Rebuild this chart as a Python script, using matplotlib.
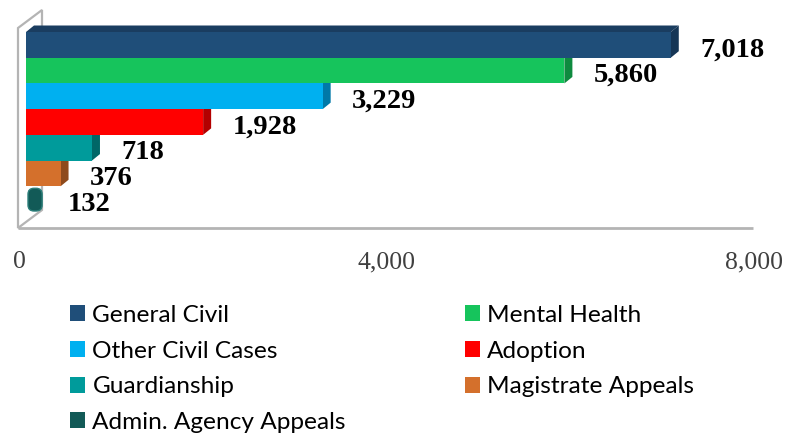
import numpy as np
import matplotlib
matplotlib.use('Agg')
import matplotlib.pyplot as plt
from matplotlib.patches import Polygon, Patch, FancyBboxPatch
from matplotlib.transforms import ScaledTranslation

categories = ['General Civil', 'Mental Health', 'Other Civil Cases', 'Adoption',
              'Guardianship', 'Magistrate Appeals', 'Admin. Agency Appeals']
values = [7018, 5860, 3229, 1928, 718, 376, 132]
front_colors = ['#1F4E79', '#16C45C', '#00B0F0', '#FF0000', '#009B9B', '#D4702C', '#125A57']
side_colors = ['#163656', '#0E8A3F', '#0079A8', '#B30000', '#006767', '#8E4A1C', '#0B3D3B']
top_colors = ['#1A3D60', '#12A54D', '#0095CC', '#D40000', '#008181', '#B35E25', '#0E4A47']
xticks = [0, 4000, 8000]

W, H, DPI = 801, 434, 100
fig = plt.figure(figsize=(W / DPI, H / DPI), dpi=DPI)
# bar (front) plane in pixels: x 26..761, y 22..222
ax = fig.add_axes([26 / W, 1 - 222 / H, 735 / W, 200 / H])
ax.set_xlim(0, 8000)
n = len(categories)
slot = 180 / n
pad = 10 / slot
ax.set_ylim(n - 0.5 + pad, -0.5 - pad)
ytop, ybot = -0.5 - pad, n - 0.5 + pad
sx = 8000 / 735           # data units per pixel (x)
sy = (n + 2 * pad) / 200  # data units per pixel (y, downward)

for s in ax.spines.values():
    s.set_visible(False)
ax.set_yticks([])
ax.patch.set_alpha(0)

# back wall and floor edge
wall_col = '#B4B4B4'
wall = Polygon([(-8 * sx, ybot + 6 * sy), (-8 * sx, ytop + 6 * sy),
                (16 * sx, ytop - 12 * sy), (16 * sx, ybot - 12 * sy)],
               closed=True, facecolor='white', edgecolor=wall_col, lw=1.6,
               clip_on=False, zorder=1)
ax.add_patch(wall)
ax.plot([-8 * sx, 8000 - 8 * sx], [ybot + 6 * sy, ybot + 6 * sy], color=wall_col,
        lw=2.0, clip_on=False, zorder=2, solid_capstyle='butt')

dx, dy = 8 * sx, 6.5 * sy
h = 1.0
for i in range(n - 1, -1, -1):
    v = values[i]
    z = 10 + (n - i) * 3
    top, bot = i - h / 2, i + h / 2
    if i == n - 1:
        box = FancyBboxPatch((2 * sx, top + 2 * sy), v + 2 * sx, h - 3 * sy,
                             boxstyle='round,pad=0,rounding_size=%f' % (6 * sx),
                             mutation_aspect=sy / sx, facecolor=front_colors[i],
                             edgecolor='#2C7F7A', lw=1.0, zorder=z)
        ax.add_patch(box)
    else:
        ax.add_patch(Polygon([(0, top), (v, top), (v + dx, top - dy), (dx, top - dy)],
                             closed=True, facecolor=top_colors[i], lw=0, zorder=z))
        ax.add_patch(Polygon([(v, top), (v, bot), (v + dx, bot - dy), (v + dx, top - dy)],
                             closed=True, facecolor=side_colors[i], lw=0, zorder=z))
        ax.barh(i, v, height=h, color=front_colors[i], lw=0, zorder=z + 1)
    ax.annotate('{:,}'.format(v), xy=(v, i), xytext=(21, -3.5), textcoords='offset points',
                ha='left', va='center', fontsize=20.5, fontweight='bold',
                family='Liberation Serif', color='black', zorder=40)

# x tick labels, shifted to the floor front edge
ax.set_xticks(xticks)
ax.set_xticklabels(['{:,}'.format(t) for t in xticks], family='Liberation Serif',
                   fontsize=18.5, color='#404040')
ax.tick_params(axis='x', length=0, pad=21)
shift = ScaledTranslation(-7 / DPI, 0, fig.dpi_scale_trans)
for lab in ax.get_xticklabels():
    lab.set_transform(lab.get_transform() + shift)

# legend, row-major order as in the original
order = [0, 2, 4, 6, 1, 3, 5]
handles = [Patch(facecolor=front_colors[k], edgecolor='none') for k in order]
labels = [categories[k] for k in order]
fig.legend(handles, labels, ncol=2, loc='upper left',
           bbox_to_anchor=(70 / W, 1 - 305 / H), frameon=False,
           prop={'family': 'Lato', 'size': 17.6}, handlelength=0.62, handleheight=0.62,
           handletextpad=0.3, labelspacing=0.6, columnspacing=4.85,
           borderpad=0, borderaxespad=0)

fig.savefig('out.png', dpi=DPI)
